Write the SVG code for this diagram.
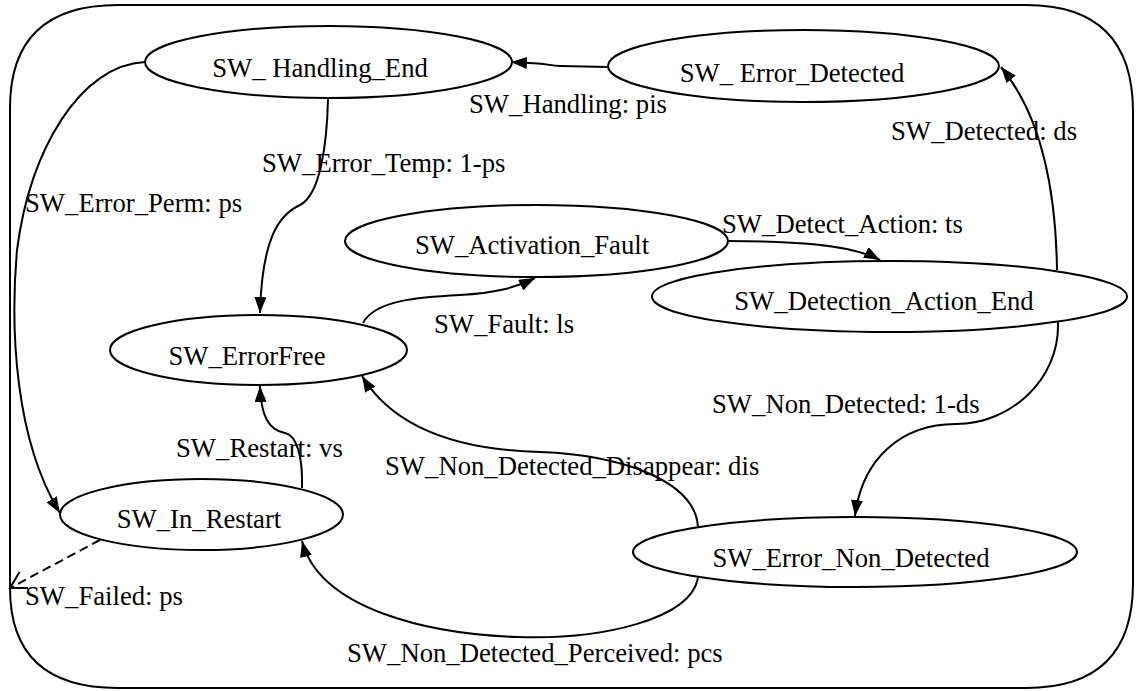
<svg xmlns="http://www.w3.org/2000/svg" width="1136" height="691" viewBox="0 0 1136 691">
  <style>
    .frame { fill: none; stroke: #000; stroke-width: 2; }
    .state ellipse { fill: #fff; stroke: #000; stroke-width: 2; }
    text { font-family: "Liberation Serif", "Times New Roman", Times, "DejaVu Serif", serif; font-size: 26.7px; fill: #000; }
    .state text { text-anchor: middle; }
    .edge { fill: none; stroke: #000; stroke-width: 2; }
    .dashed { stroke-dasharray: 9 5; }
  </style>
  <defs>
    <marker id="arrow" markerUnits="userSpaceOnUse" markerWidth="17" markerHeight="12" refX="16" refY="6" orient="auto">
      <path d="M0,0 L16,6 L0,12 z" fill="#000"/>
    </marker>
  </defs>

  <!-- system boundary -->
  <path class="frame" d="M118,5 L1026,5 Q1133,5 1133,112 L1133,583 Q1133,688 1026,688 L118,688 Q10,688 10,588 L10,108 Q10,5 118,5 Z"/>

  <!-- states -->
  <g id="sw-handling-end" class="state">
    <ellipse cx="328.5" cy="62" rx="183.5" ry="36"/>
    <text x="320" y="77">SW_ Handling_End</text>
  </g>
  <g id="sw-error-detected" class="state">
    <ellipse cx="803.5" cy="66" rx="195.5" ry="36"/>
    <text x="792" y="82">SW_ Error_Detected</text>
  </g>
  <g id="sw-activation-fault" class="state">
    <ellipse cx="536.5" cy="241" rx="191.5" ry="36"/>
    <text x="532" y="254">SW_Activation_Fault</text>
  </g>
  <g id="sw-detection-action-end" class="state">
    <ellipse cx="889.5" cy="296.5" rx="237.5" ry="35.5"/>
    <text x="884" y="310">SW_Detection_Action_End</text>
  </g>
  <g id="sw-errorfree" class="state">
    <ellipse cx="258.5" cy="350" rx="148.5" ry="35"/>
    <text x="247" y="365">SW_ErrorFree</text>
  </g>
  <g id="sw-in-restart" class="state">
    <ellipse cx="201.5" cy="514.5" rx="141.5" ry="35.5"/>
    <text x="199" y="528">SW_In_Restart</text>
  </g>
  <g id="sw-error-non-detected" class="state">
    <ellipse cx="855" cy="552" rx="222" ry="35"/>
    <text x="851" y="567">SW_Error_Non_Detected</text>
  </g>

  <!-- transitions -->
  <g id="transitions">
    <path class="edge" marker-end="url(#arrow)" d="M608,67 L560,66 C552,66 548,64 538,63.5 L511,62"/>
    <text x="469" y="113">SW_Handling: pis</text>

    <path class="edge" marker-end="url(#arrow)" d="M328,99 C327,145 320,195 300,205 C278,215 262,240 260,313"/>
    <text x="262" y="172">SW_Error_Temp: 1-ps</text>

    <path class="edge" marker-end="url(#arrow)" d="M145,62 C80,65 30,150 17,250 C10,330 15,440 60,513"/>
    <text x="25" y="212">SW_Error_Perm: ps</text>

    <path class="edge" marker-end="url(#arrow)" d="M363,323 C375,300 420,297 460,295 C495,293 515,288 535,278"/>
    <text x="434" y="333">SW_Fault: ls</text>

    <path class="edge" marker-end="url(#arrow)" d="M728,241 C790,241 850,244 880,260"/>
    <text x="722" y="233">SW_Detect_Action: ts</text>

    <path class="edge" marker-end="url(#arrow)" d="M1057,270 C1056,200 1045,120 1001,67"/>
    <text x="891" y="140">SW_Detected: ds</text>

    <path class="edge" marker-end="url(#arrow)" d="M1058,322 C1060,380 1010,424 956,424 C900,424 862,460 855,516"/>
    <text x="712" y="413">SW_Non_Detected: 1-ds</text>

    <path class="edge" marker-end="url(#arrow)" d="M698,527 C695,480 620,455 540,452 C460,450 395,430 362,376"/>
    <text x="385" y="475">SW_Non_Detected_Disappear: dis</text>

    <path class="edge" marker-end="url(#arrow)" d="M698,578 C690,620 600,640 517,637 C430,634 320,610 302,541"/>
    <text x="347" y="662">SW_Non_Detected_Perceived: pcs</text>

    <path class="edge" marker-end="url(#arrow)" d="M302,488 C303,455 296,435 285,433 C268,430 261,415 260,386"/>
    <text x="176" y="457">SW_Restart: vs</text>

    <path class="edge dashed" d="M100,540 L11,587.5"/>
    <path class="edge" d="M19.5,572 L10,588 L28,588"/>
    <text x="25" y="605">SW_Failed: ps</text>
  </g>
</svg>
